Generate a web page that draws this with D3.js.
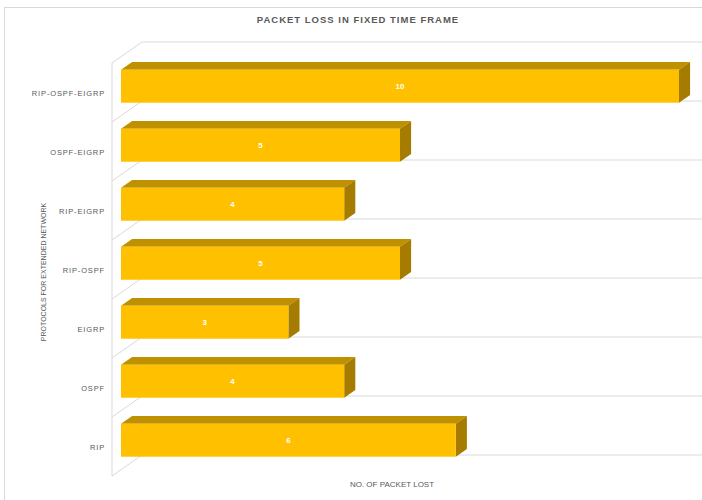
<!DOCTYPE html>
<html>
<head>
<meta charset="utf-8">
<script src="https://d3js.org/d3.v7.min.js"></script>
<style>
  body { margin: 0; background: #fff; }
  svg { display: block; font-family: "Liberation Sans", Arial, sans-serif; }
</style>
</head>
<body>
<svg id="chart" width="702" height="500"></svg>
<script>
// chart data (top to bottom as drawn)
const categories = ['RIP-OSPF-EIGRP', 'OSPF-EIGRP', 'RIP-EIGRP', 'RIP-OSPF', 'EIGRP', 'OSPF', 'RIP'];
const packetsLost = [10, 5, 4, 5, 3, 4, 6];
const chartTitle = 'PACKET LOSS IN FIXED TIME FRAME';
const xTitle = 'NO. OF PACKET LOST';
const yTitle = 'PROTOCOLS FOR EXTENDED NETWORK';

const svg = d3.select('#chart');
const W = 702, H = 500;

// fake 3D: offset of the back wall from the front plane
const DX = 30, DY = -21;
const t0 = 0.3, t1 = 0.67; // bar front / back depth

const x = d3.scaleLinear().domain([0, 10]).range([112, 670]);
const y = d3.scaleBand().domain(categories).range([63, 476]).padding(0);
const barH = y.bandwidth() * 0.56;

const grid = '#d9d9d9';

// outer chart border
svg.append('rect')
  .attr('x', 4.5).attr('y', 7.5)
  .attr('width', W + 10).attr('height', H + 10)
  .attr('fill', 'none').attr('stroke', grid);

// gridlines on back wall and left wall
const bounds = categories.map(c => y(c)).concat([y.range()[1]]);
const g = svg.append('g').attr('stroke', grid).attr('stroke-width', 1).attr('fill', 'none');
bounds.forEach(b => {
  g.append('line')
    .attr('x1', x(0) + DX).attr('y1', b + DY)
    .attr('x2', W).attr('y2', b + DY);
  g.append('line')
    .attr('x1', x(0)).attr('y1', b)
    .attr('x2', x(0) + DX).attr('y2', b + DY);
});
g.append('line')
  .attr('x1', x(0)).attr('y1', y.range()[0])
  .attr('x2', x(0)).attr('y2', y.range()[1]);

// bars
const bars = svg.append('g');
categories.forEach((c, i) => {
  const v = packetsLost[i];
  const cy = y(c) + y.bandwidth() / 2 + t0 * DY;
  const fx0 = x(0) + t0 * DX, fx1 = x(v) + t0 * DX;
  const top = cy - barH / 2, bot = cy + barH / 2;
  const ddx = (t1 - t0) * DX, ddy = (t1 - t0) * DY;

  // top face
  bars.append('path')
    .attr('d', `M${fx0},${top} L${fx0 + ddx},${top + ddy} L${fx1 + ddx},${top + ddy} L${fx1},${top} Z`)
    .attr('fill', '#bf9000');
  // side face
  bars.append('path')
    .attr('d', `M${fx1},${top} L${fx1 + ddx},${top + ddy} L${fx1 + ddx},${bot + ddy} L${fx1},${bot} Z`)
    .attr('fill', '#a57c00');
  // front face
  bars.append('rect')
    .attr('x', fx0).attr('y', top)
    .attr('width', fx1 - fx0).attr('height', barH)
    .attr('fill', '#ffc000');
  // value label
  bars.append('text')
    .attr('x', (fx0 + fx1) / 2).attr('y', cy + 3)
    .attr('text-anchor', 'middle')
    .attr('font-size', 8).attr('font-weight', 'bold')
    .attr('fill', '#fff')
    .text(v);
});

// category labels
svg.append('g').selectAll('text')
  .data(categories)
  .enter().append('text')
  .attr('x', 105)
  .attr('y', d => y(d) + y.bandwidth() / 2 + 3)
  .attr('text-anchor', 'end')
  .attr('font-size', 7.5)
  .attr('letter-spacing', 0.85)
  .attr('fill', '#595959')
  .text(d => d);

// titles
svg.append('text')
  .attr('x', 358).attr('y', 23)
  .attr('text-anchor', 'middle')
  .attr('font-size', 9.5).attr('font-weight', 'bold')
  .attr('letter-spacing', 1)
  .attr('fill', '#595959')
  .text(chartTitle);

svg.append('text')
  .attr('x', 392).attr('y', 487)
  .attr('text-anchor', 'middle')
  .attr('font-size', 8)
  .attr('fill', '#595959')
  .text(xTitle);

svg.append('text')
  .attr('transform', 'translate(46,272) rotate(-90)')
  .attr('text-anchor', 'middle')
  .attr('font-size', 7)
  .attr('fill', '#595959')
  .text(yTitle);
</script>
</body>
</html>
